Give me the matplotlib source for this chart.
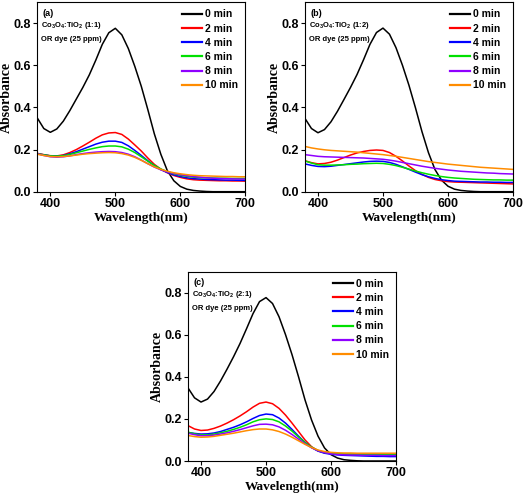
import numpy as np
import matplotlib
matplotlib.use("Agg")
import matplotlib.pyplot as plt

plt.rcParams["mathtext.default"] = "regular"

# wavelength grid (nm), one reading every 10 nm
wavelength = np.arange(380, 701, 10)

times = ["0 min", "2 min", "4 min", "6 min", "8 min", "10 min"]
colors = ["#000000", "#ff0000", "#0000ff", "#00e000", "#8f00ff", "#ff8c00"]

# ---- panel (a) Co3O4:TiO2 (1:1)
a_0 = [0.350, 0.300, 0.282, 0.298, 0.335, 0.385, 0.440, 0.495, 0.555, 0.625, 0.700,
       0.755, 0.776, 0.745, 0.680, 0.595, 0.500, 0.390, 0.275, 0.178, 0.100, 0.052,
       0.025, 0.012, 0.006, 0.003, 0.001, 0.0, 0.0, 0.0, 0.0, 0.0, 0.0]
a_2 = [0.182, 0.176, 0.171, 0.170, 0.175, 0.186, 0.200, 0.217, 0.235, 0.254, 0.270,
       0.279, 0.281, 0.272, 0.250, 0.222, 0.193, 0.160, 0.130, 0.107, 0.090, 0.077,
       0.068, 0.061, 0.057, 0.055, 0.054, 0.053, 0.052, 0.052, 0.051, 0.051, 0.050]
a_4 = [0.180, 0.175, 0.170, 0.169, 0.172, 0.180, 0.190, 0.202, 0.214, 0.226, 0.235,
       0.240, 0.240, 0.234, 0.218, 0.196, 0.172, 0.147, 0.124, 0.105, 0.091, 0.080,
       0.072, 0.066, 0.062, 0.060, 0.058, 0.057, 0.056, 0.055, 0.055, 0.054, 0.054]
a_6 = [0.180, 0.175, 0.170, 0.169, 0.171, 0.177, 0.185, 0.193, 0.201, 0.208, 0.214,
       0.217, 0.217, 0.213, 0.202, 0.186, 0.166, 0.145, 0.125, 0.108, 0.095, 0.085,
       0.078, 0.073, 0.069, 0.067, 0.066, 0.065, 0.064, 0.064, 0.063, 0.063, 0.063]
a_8 = [0.180, 0.172, 0.166, 0.164, 0.166, 0.170, 0.176, 0.181, 0.185, 0.188, 0.190,
       0.191, 0.190, 0.186, 0.178, 0.166, 0.150, 0.133, 0.117, 0.104, 0.094, 0.087,
       0.081, 0.076, 0.072, 0.069, 0.066, 0.064, 0.063, 0.062, 0.061, 0.060, 0.060]
a_10 = [0.178, 0.172, 0.167, 0.166, 0.167, 0.170, 0.174, 0.178, 0.181, 0.183, 0.185,
        0.186, 0.185, 0.181, 0.174, 0.163, 0.149, 0.133, 0.118, 0.106, 0.097, 0.090,
        0.085, 0.081, 0.078, 0.076, 0.075, 0.074, 0.073, 0.072, 0.072, 0.071, 0.071]

# ---- panel (b) Co3O4:TiO2 (1:2)
b_0 = [0.348, 0.300, 0.280, 0.295, 0.332, 0.382, 0.438, 0.495, 0.556, 0.626, 0.700,
       0.756, 0.777, 0.748, 0.684, 0.600, 0.505, 0.398, 0.285, 0.185, 0.105, 0.055,
       0.026, 0.012, 0.006, 0.003, 0.001, 0.0, 0.0, 0.0, 0.0, 0.0, 0.0]
b_2 = [0.147, 0.138, 0.132, 0.134, 0.140, 0.150, 0.162, 0.174, 0.184, 0.191, 0.196,
       0.198, 0.196, 0.186, 0.168, 0.146, 0.122, 0.100, 0.082, 0.068, 0.058, 0.052,
       0.048, 0.046, 0.045, 0.044, 0.043, 0.042, 0.041, 0.040, 0.039, 0.038, 0.037]
b_4 = [0.132, 0.125, 0.120, 0.119, 0.121, 0.125, 0.129, 0.133, 0.137, 0.141, 0.144,
       0.145, 0.144, 0.139, 0.130, 0.118, 0.106, 0.093, 0.081, 0.071, 0.063, 0.057,
       0.053, 0.050, 0.049, 0.048, 0.047, 0.046, 0.046, 0.045, 0.045, 0.044, 0.044]
b_6 = [0.146, 0.136, 0.128, 0.126, 0.126, 0.127, 0.128, 0.130, 0.131, 0.133, 0.134,
       0.135, 0.134, 0.130, 0.124, 0.116, 0.107, 0.098, 0.090, 0.083, 0.077, 0.072,
       0.068, 0.065, 0.063, 0.061, 0.059, 0.058, 0.057, 0.056, 0.056, 0.055, 0.055]
b_8 = [0.176, 0.172, 0.168, 0.166, 0.165, 0.164, 0.163, 0.162, 0.161, 0.160, 0.158,
       0.156, 0.154, 0.150, 0.145, 0.139, 0.133, 0.127, 0.121, 0.116, 0.111, 0.107,
       0.103, 0.100, 0.097, 0.095, 0.093, 0.091, 0.089, 0.088, 0.086, 0.085, 0.084]
b_10 = [0.215, 0.208, 0.203, 0.199, 0.196, 0.194, 0.192, 0.190, 0.188, 0.185, 0.182,
        0.179, 0.176, 0.172, 0.168, 0.163, 0.158, 0.153, 0.148, 0.143, 0.139, 0.135,
        0.131, 0.128, 0.125, 0.122, 0.119, 0.116, 0.114, 0.112, 0.110, 0.108, 0.106]

# ---- panel (c) Co3O4:TiO2 (2:1)
c_0 = [0.347, 0.300, 0.280, 0.294, 0.330, 0.380, 0.436, 0.495, 0.558, 0.628, 0.700,
       0.757, 0.776, 0.748, 0.685, 0.600, 0.505, 0.400, 0.290, 0.195, 0.118, 0.062,
       0.030, 0.014, 0.006, 0.003, 0.001, 0.0, 0.0, 0.0, 0.0, 0.0, 0.0]
c_2 = [0.168, 0.152, 0.145, 0.147, 0.155, 0.166, 0.180, 0.196, 0.214, 0.234, 0.256,
       0.274, 0.280, 0.272, 0.250, 0.218, 0.180, 0.140, 0.100, 0.068, 0.048, 0.039,
       0.035, 0.033, 0.032, 0.031, 0.031, 0.030, 0.030, 0.030, 0.029, 0.029, 0.029]
c_4 = [0.135, 0.131, 0.128, 0.129, 0.133, 0.140, 0.150, 0.160, 0.172, 0.186, 0.202,
       0.216, 0.223, 0.220, 0.204, 0.180, 0.150, 0.118, 0.088, 0.064, 0.047, 0.037,
       0.032, 0.029, 0.027, 0.026, 0.025, 0.024, 0.023, 0.022, 0.022, 0.021, 0.021]
c_6 = [0.137, 0.129, 0.124, 0.124, 0.128, 0.134, 0.141, 0.150, 0.160, 0.172, 0.186,
       0.196, 0.200, 0.197, 0.186, 0.166, 0.142, 0.114, 0.088, 0.066, 0.050, 0.041,
       0.036, 0.034, 0.033, 0.033, 0.032, 0.032, 0.032, 0.032, 0.032, 0.032, 0.032]
c_8 = [0.132, 0.125, 0.120, 0.120, 0.123, 0.128, 0.134, 0.141, 0.149, 0.158, 0.167,
       0.174, 0.175, 0.172, 0.162, 0.146, 0.126, 0.104, 0.082, 0.063, 0.049, 0.040,
       0.034, 0.031, 0.029, 0.028, 0.028, 0.027, 0.027, 0.027, 0.026, 0.026, 0.026]
c_10 = [0.121, 0.116, 0.113, 0.114, 0.117, 0.122, 0.127, 0.132, 0.138, 0.144, 0.149,
        0.152, 0.152, 0.148, 0.140, 0.128, 0.113, 0.096, 0.079, 0.064, 0.052, 0.045,
        0.041, 0.039, 0.038, 0.038, 0.037, 0.037, 0.037, 0.037, 0.037, 0.037, 0.037]

x_ticks = [400, 500, 600, 700]
y_ticks = [0.0, 0.2, 0.4, 0.6, 0.8]

panels = [
    ("(a)", "(1:1)", [a_0, a_2, a_4, a_6, a_8, a_10]),
    ("(b)", "(1:2)", [b_0, b_2, b_4, b_6, b_8, b_10]),
    ("(c)", "(2:1)", [c_0, c_2, c_4, c_6, c_8, c_10]),
]

fig = plt.figure(figsize=(5.24, 5.0), dpi=100)
boxes = [[0.0712, 0.6166, 0.397, 0.379],
         [0.582, 0.6166, 0.397, 0.379],
         [0.3588, 0.078, 0.397, 0.379]]

for box, (tag, ratio, series) in zip(boxes, panels):
    ax = fig.add_axes(box)
    for name, col, vals in zip(times, colors, series):
        ax.plot(wavelength, vals, color=col, lw=1.1, label=name)

    ax.set_xlim(380, 700)
    ax.set_ylim(0, 0.9)
    ax.set_xticks(x_ticks)
    ax.set_yticks(y_ticks)
    ax.set_yticklabels([f"{v:.1f}" for v in y_ticks])
    ax.tick_params(direction="out", length=3, width=0.8, pad=1.5)
    for lab in ax.get_xticklabels() + ax.get_yticklabels():
        lab.set_fontfamily("Liberation Sans")
        lab.set_fontweight("bold")
        lab.set_fontsize(9)
    for sp in ax.spines.values():
        sp.set_linewidth(0.8)

    ax.set_xlabel("Wavelength(nm)", family="Liberation Serif", weight="bold",
                  fontsize=9.5, labelpad=1.5)
    ax.set_ylabel("Absorbance", family="Liberation Serif", weight="bold",
                  fontsize=10, va="baseline")
    ax.yaxis.set_label_coords(-0.13, 0.5)

    ax.text(0.025, 0.965, tag, transform=ax.transAxes, fontsize=6.5, weight="bold",
            family="Liberation Sans", va="top")
    ax.text(0.018, 0.878, r"Co$_3$O$_4$:TiO$_2$ " + ratio, transform=ax.transAxes,
            fontsize=5.5, weight="bold", family="Liberation Sans", va="center")
    ax.text(0.018, 0.804, "OR dye (25 ppm)", transform=ax.transAxes,
            fontsize=5.5, weight="bold", family="Liberation Sans", va="center")

    leg = ax.legend(loc="upper right", bbox_to_anchor=(1.0, 1.0), frameon=False,
                    prop={"family": "Liberation Sans", "weight": "bold", "size": 7.5},
                    handlelength=1.9, handletextpad=0.3, labelspacing=0.4,
                    borderaxespad=0.3)
    for h in leg.get_lines():
        h.set_linewidth(1.6)

fig.savefig("out.png", dpi=100)
